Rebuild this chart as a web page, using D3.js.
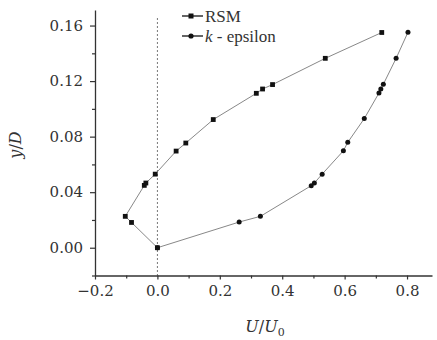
<!DOCTYPE html>
<html>
<head>
<meta charset="utf-8">
<script src="https://d3js.org/d3.v7.min.js"></script>
<style>
  body { margin: 0; background: #fff; }
  text { font-family: "DejaVu Serif", serif; fill: #333; }
</style>
</head>
<body>
<svg width="437" height="340"></svg>
<script>
// values
var rsmU  = [0, -0.083, -0.103, -0.042, -0.037, -0.007, 0.060, 0.091, 0.179, 0.317, 0.337, 0.369, 0.538, 0.719];
var rsmY  = [0, 0.0182, 0.0226, 0.0449, 0.0466, 0.053, 0.0696, 0.0754, 0.0923, 0.1112, 0.1143, 0.1175, 0.1364, 0.155];
var kepsU = [0, 0.262, 0.330, 0.493, 0.503, 0.528, 0.596, 0.610, 0.663, 0.710, 0.716, 0.724, 0.765, 0.803];
var kepsY = [0, 0.0185, 0.0226, 0.0447, 0.0466, 0.053, 0.0698, 0.0759, 0.093, 0.1114, 0.1143, 0.1177, 0.1364, 0.1552];
var xMajor = [-0.2, 0, 0.2, 0.4, 0.6, 0.8];
var xMinor = [-0.1, 0.1, 0.3, 0.5, 0.7];
var yMajor = [0, 0.04, 0.08, 0.12, 0.16];
var yMinor = [-0.02, 0.02, 0.06, 0.10, 0.14];

var svg = d3.select('svg');
var x = d3.scaleLinear().domain([-0.2, 0.88]).range([95, 432]);
var y = d3.scaleLinear().domain([-0.02, 0.1712]).range([275.5, 10]);

// zero line
svg.append('line')
  .attr('x1', x(0)).attr('x2', x(0))
  .attr('y1', 18).attr('y2', y(-0.02))
  .attr('stroke', '#777').attr('stroke-width', 1)
  .attr('stroke-dasharray', '2,2');

// axes
var xAxis = svg.append('g').attr('transform', 'translate(0,' + y(-0.02) + ')');
xAxis.call(d3.axisBottom(x).tickValues(xMajor).tickFormat(d3.format('.1f')).tickSize(4).tickPadding(6).tickSizeOuter(0));
xAxis.append('g').call(d3.axisBottom(x).tickValues(xMinor).tickFormat('').tickSize(3).tickSizeOuter(0))
  .select('.domain').remove();

var yAxis = svg.append('g').attr('transform', 'translate(' + x(-0.2) + ',0)');
yAxis.call(d3.axisLeft(y).tickValues(yMajor).tickFormat(d3.format('.2f')).tickSize(5).tickPadding(7).tickSizeOuter(0));
yAxis.append('g').call(d3.axisLeft(y).tickValues(yMinor).tickFormat('').tickSize(3).tickSizeOuter(0))
  .select('.domain').remove();

svg.selectAll('.domain').attr('stroke', '#333').attr('stroke-width', 1.3);
svg.selectAll('.tick line').attr('stroke', '#333').attr('stroke-width', 1.2);
svg.selectAll('.tick text').style('font-family', '"DejaVu Serif", serif').style('font-size', '15px').attr('fill', '#444');

// axis titles
var xt = svg.append('text').attr('x', 265).attr('y', 332).attr('text-anchor', 'middle').style('font-size', '16px').style('font-style', 'italic');
xt.append('tspan').text('U');
xt.append('tspan').style('font-style', 'normal').text('/');
xt.append('tspan').text('U');
xt.append('tspan').attr('dy', 4).style('font-size', '11px').style('font-style', 'normal').text('0');

var yt = svg.append('text').attr('transform', 'translate(21,145) rotate(-90)').attr('text-anchor', 'middle')
  .style('font-size', '16px').style('font-style', 'italic');
yt.append('tspan').text('y');
yt.append('tspan').style('font-style', 'normal').text('/');
yt.append('tspan').text('D');

// series
var rsm = rsmU.map(function (d, i) { return [d, rsmY[i]]; });
var keps = kepsU.map(function (d, i) { return [d, kepsY[i]]; });
var line = d3.line().x(function (d) { return x(d[0]); }).y(function (d) { return y(d[1]); });

[rsm, keps].forEach(function (s) {
  svg.append('path').datum(s).attr('d', line)
    .attr('fill', 'none').attr('stroke', '#888').attr('stroke-width', 1);
});

svg.selectAll('rect.rsm').data(rsm).enter().append('rect')
  .attr('class', 'rsm')
  .attr('x', function (d) { return x(d[0]) - 2.4; })
  .attr('y', function (d) { return y(d[1]) - 2.4; })
  .attr('width', 4.8).attr('height', 4.8).attr('fill', '#111');

svg.selectAll('circle.keps').data(keps).enter().append('circle')
  .attr('class', 'keps')
  .attr('cx', function (d) { return x(d[0]); })
  .attr('cy', function (d) { return y(d[1]); })
  .attr('r', 2.5).attr('fill', '#111');

// legend
var lg = svg.append('g');
lg.append('line').attr('x1', 182).attr('x2', 203).attr('y1', 16).attr('y2', 16).attr('stroke', '#111').attr('stroke-width', 1.3);
lg.append('rect').attr('x', 188.5).attr('y', 13.5).attr('width', 5).attr('height', 5).attr('fill', '#111');
lg.append('text').attr('x', 205).attr('y', 21.5).style('font-family', '"Liberation Serif", serif').style('font-size', '17px').attr('fill', '#222').text('RSM');
lg.append('line').attr('x1', 182).attr('x2', 203).attr('y1', 36).attr('y2', 36).attr('stroke', '#111').attr('stroke-width', 1.3);
lg.append('circle').attr('cx', 191).attr('cy', 36).attr('r', 2.6).attr('fill', '#111');
var kt = lg.append('text').attr('x', 205).attr('y', 41.5).style('font-family', '"Liberation Serif", serif').style('font-size', '17px').attr('fill', '#222');
kt.append('tspan').style('font-style', 'italic').text('k');
kt.append('tspan').text(' - epsilon');
</script>
</body>
</html>
